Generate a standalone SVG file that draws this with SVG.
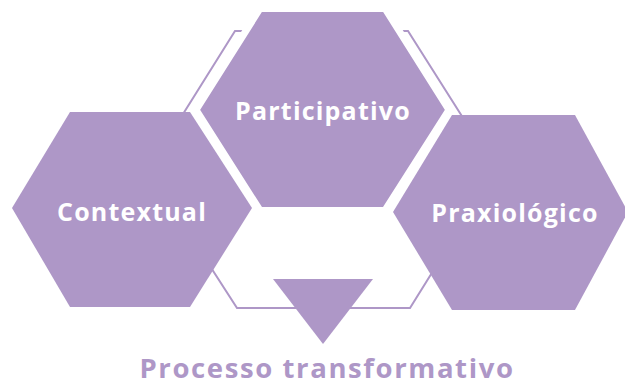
<svg xmlns="http://www.w3.org/2000/svg" width="625" height="385" viewBox="0 0 625 385">
<style>
.hex{fill:#ae97c7}
.hexw{fill:#ae97c7;stroke:#ffffff;stroke-width:7;stroke-linejoin:miter}
.outline{fill:#ffffff;stroke:#ae97c7;stroke-width:2}
.lbl{font-family:"Open Sans","Liberation Sans",sans-serif;font-weight:bold;fill:#ffffff;text-anchor:middle;font-size:25px;letter-spacing:1.2px}
.cap{font-family:"Open Sans","Liberation Sans",sans-serif;font-weight:bold;fill:#ae97c7;text-anchor:middle;font-size:27.5px;letter-spacing:1.6px}
</style>
<rect width="625" height="385" fill="#ffffff"/>
<g id="frame">
<polygon class="outline" points="235,31 408,31 496,170 410,308 237,308 148,170"/>
</g>
<g id="contextual">
<polygon class="hex" points="70,112 190,112 252,208 190,307 70,307 12,208"/>
<text class="lbl" x="132" y="221">Contextual</text>
</g>
<g id="praxiologico">
<polygon class="hex" points="452,115 575,115 628,212 575,310 452,310 393,212"/>
<text class="lbl" x="515" y="222">Praxiológico</text>
</g>
<g id="participativo">
<polygon class="hexw" points="260,8.5 385,8.5 449,110 385,210.5 260,210.5 196,110"/>
<text class="lbl" x="323" y="120">Participativo</text>
</g>
<g id="connectors">
<polygon id="processo-arrow" class="hex" points="273,279 373,279 323,344"/>
</g>
<g id="processo">
<text class="cap" x="327" y="378">Processo transformativo</text>
</g>
</svg>
